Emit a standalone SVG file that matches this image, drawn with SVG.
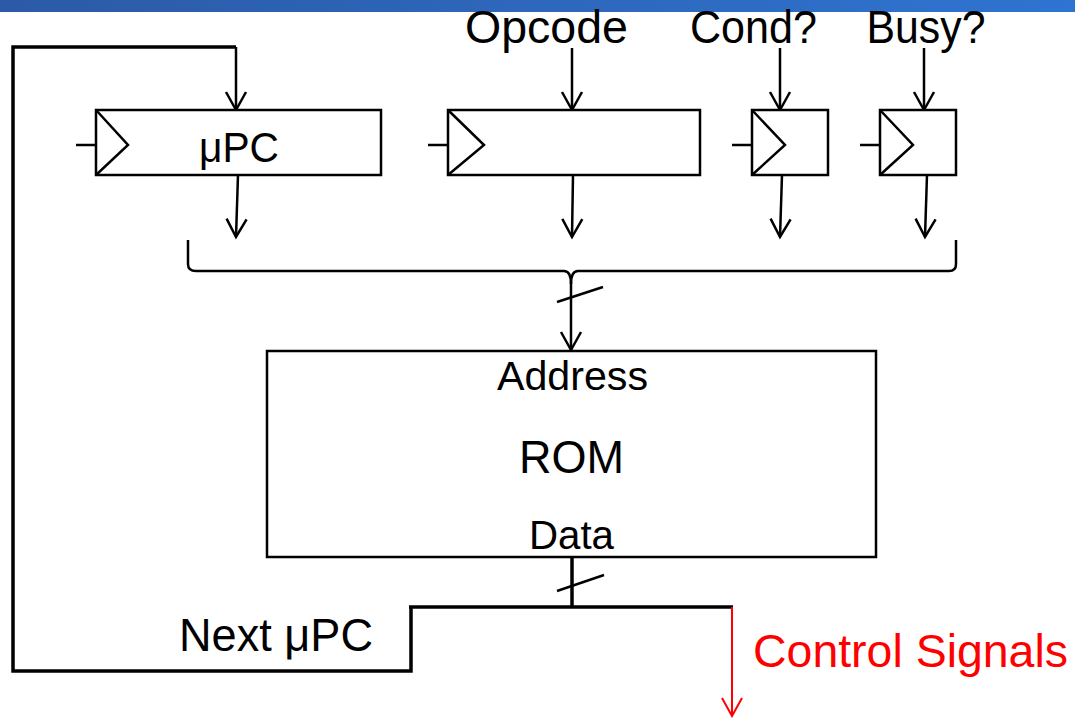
<svg xmlns="http://www.w3.org/2000/svg" width="1075" height="718" viewBox="0 0 1075 718">
<style>
  .box{fill:#fff;stroke:#000;stroke-width:2.5}
  .clk{fill:none;stroke:#000;stroke-width:2.5}
  .w{fill:none;stroke:#000;stroke-width:2.5}
  .tw{fill:none;stroke:#000;stroke-width:3.5}
  .t{font-family:"Liberation Sans",Arial,sans-serif;fill:#000;text-anchor:middle}
</style>
<defs>
  <linearGradient id="bar" x1="0" y1="0" x2="1" y2="0">
    <stop offset="0" stop-color="#2c5aa6"/>
    <stop offset="1" stop-color="#2f74d1"/>
  </linearGradient>
  <marker id="arr" viewBox="-20 -11 22 22" refX="0" refY="0" markerWidth="22" markerHeight="22" markerUnits="userSpaceOnUse" orient="auto" overflow="visible">
    <path d="M-18,-10 L0,0 L-18,10" fill="none" stroke="#000" stroke-width="2.5"/>
  </marker>
  <marker id="arrR" viewBox="-20 -11 22 22" refX="0" refY="0" markerWidth="22" markerHeight="22" markerUnits="userSpaceOnUse" orient="auto" overflow="visible">
    <path d="M-18,-10 L0,0 L-18,10" fill="none" stroke="#f00" stroke-width="2"/>
  </marker>
</defs>
<rect x="0" y="0" width="1075" height="718" fill="#fff"/>
<rect x="0" y="0" width="1075" height="12" fill="url(#bar)"/>

<g id="connectors">
  <polyline class="tw" points="411,607 411,671 13,671 13,47 236,47"/>
  <line class="w" x1="236" y1="47" x2="236" y2="110" marker-end="url(#arr)"/>
  <line class="w" x1="572" y1="48" x2="572" y2="110" marker-end="url(#arr)"/>
  <line class="w" x1="780" y1="48" x2="780" y2="110" marker-end="url(#arr)"/>
  <line class="w" x1="924" y1="48" x2="924" y2="110" marker-end="url(#arr)"/>
  <line class="w" x1="238" y1="175" x2="236" y2="237" marker-end="url(#arr)"/>
  <line class="w" x1="573" y1="175" x2="572" y2="237" marker-end="url(#arr)"/>
  <line class="w" x1="782" y1="175" x2="780" y2="237" marker-end="url(#arr)"/>
  <line class="w" x1="927" y1="175" x2="925" y2="237" marker-end="url(#arr)"/>
  <path class="w" d="M188,240 L188,264 Q188,271 196,271 L564,271 Q571,271 571,284 Q571,271 578,271 L949,271 Q956,271 956,264 L956,240"/>
  <line class="w" x1="571" y1="282" x2="571" y2="350" marker-end="url(#arr)"/>
  <line class="w" x1="557" y1="302" x2="603" y2="287"/>
  <line class="tw" x1="572" y1="558" x2="572" y2="607"/>
  <line class="w" x1="557" y1="591" x2="604" y2="575"/>
  <line class="tw" x1="409" y1="607" x2="733" y2="607"/>
  <line x1="732" y1="607" x2="732" y2="716" stroke="#f00" stroke-width="2" marker-end="url(#arrR)"/>
  <line class="w" x1="76" y1="145" x2="96" y2="145"/>
  <line class="w" x1="428" y1="145" x2="448" y2="145"/>
  <line class="w" x1="732" y1="145" x2="752" y2="145"/>
  <line class="w" x1="860" y1="145" x2="880" y2="145"/>
</g>

<g id="upc">
  <rect class="box" x="96" y="110" width="285" height="65"/>
  <polyline class="clk" points="96,110 128,145 96,175"/>
  <text class="t" x="239" y="162" font-size="42" textLength="80" lengthAdjust="spacingAndGlyphs">μPC</text>
</g>
<g id="opcode-reg">
  <rect class="box" x="448" y="110" width="252" height="65"/>
  <polyline class="clk" points="448,110 484,145 448,175"/>
</g>
<g id="cond-reg">
  <rect class="box" x="752" y="110" width="76" height="65"/>
  <polyline class="clk" points="752,110 785,145 752,175"/>
</g>
<g id="busy-reg">
  <rect class="box" x="880" y="110" width="76" height="65"/>
  <polyline class="clk" points="880,110 913,145 880,175"/>
</g>
<g id="rom">
  <rect class="box" x="267" y="351" width="609" height="206"/>
  <text class="t" x="572.5" y="390" font-size="40" textLength="151" lengthAdjust="spacingAndGlyphs">Address</text>
  <text class="t" x="571.5" y="473" font-size="46" textLength="105" lengthAdjust="spacingAndGlyphs">ROM</text>
  <text class="t" x="571.5" y="549" font-size="40" textLength="85" lengthAdjust="spacingAndGlyphs">Data</text>
</g>
<g id="labels">
  <text class="t" x="546.5" y="43" font-size="46" textLength="163" lengthAdjust="spacingAndGlyphs">Opcode</text>
  <text class="t" x="753.5" y="43" font-size="46" textLength="127" lengthAdjust="spacingAndGlyphs">Cond?</text>
  <text class="t" x="926" y="43" font-size="46" textLength="119" lengthAdjust="spacingAndGlyphs">Busy?</text>
  <text class="t" x="276" y="651" font-size="46" textLength="194" lengthAdjust="spacingAndGlyphs">Next μPC</text>
  <text class="t" x="910.5" y="667" font-size="46" fill="#f00" style="fill:#f00" textLength="315" lengthAdjust="spacingAndGlyphs">Control Signals</text>
</g>
</svg>
